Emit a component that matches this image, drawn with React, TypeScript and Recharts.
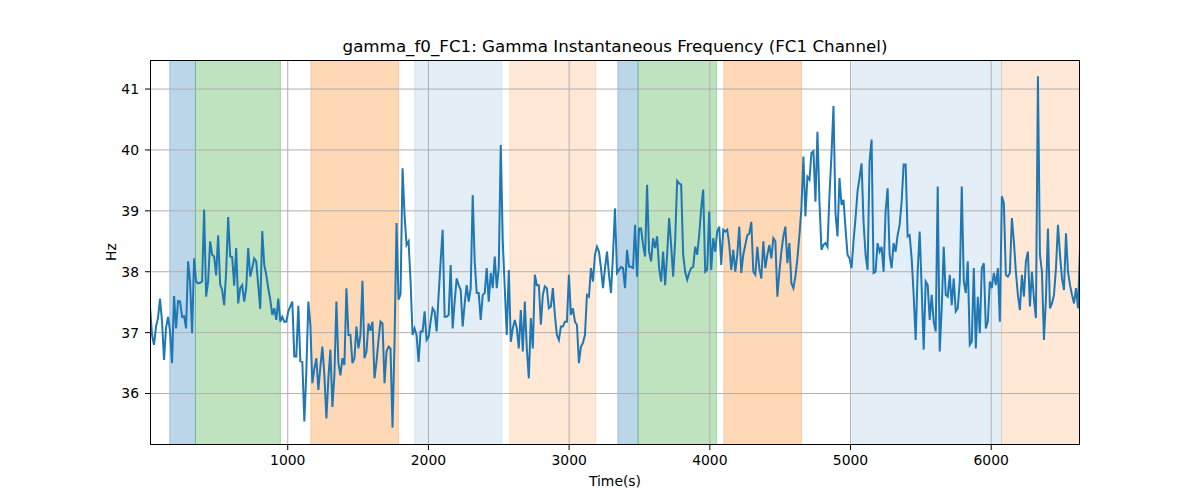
import { LineChart, Line, XAxis, YAxis, ReferenceArea, ReferenceLine } from 'recharts';

// ---------------------------------------------------------------------------
// Data
// ---------------------------------------------------------------------------

// samples are evenly spaced in time
const T0 = 21;
const STEP = 14.246;

const HZ_PART1 = [
  37.43, 36.96, 36.8, 37.1, 37.24, 37.56, 37.18, 36.55, 37.08, 37.26,
  37.02, 36.5, 37.6, 37.07, 37.52, 37.51, 37.26, 37.27, 37.07, 38.17,
  37.84, 36.99, 38.22, 37.84, 37.81, 37.82, 37.84, 39.02, 37.59, 37.84,
  38.5, 38.28, 38.25, 37.94, 38.6, 37.79, 37.7, 37.45, 38.0, 38.9,
  38.25, 38.24, 37.77, 38.39, 37.48, 37.73, 37.78, 37.51, 37.73, 38.39,
  37.92, 38.06, 38.22, 38.17, 37.78, 37.39, 38.67, 38.11, 37.95, 37.73,
  37.54, 37.29, 37.4, 37.21, 37.56, 37.18, 37.26, 37.18, 37.18, 37.35,
  37.43, 37.51, 36.61, 36.61, 37.44, 36.53, 36.52, 35.54,
];

const HZ_PART2 = [
  36.36, 37.51, 37.13, 36.17, 36.41, 36.58, 36.06, 36.44, 36.77, 36.3,
  35.59, 36.25, 36.72, 35.78, 36.3, 37.51, 36.5, 36.3, 36.58, 36.47,
  37.73, 36.96, 36.96, 36.5, 36.58, 37.1, 36.74, 36.96, 37.85, 36.58,
  36.69, 37.15, 37.03, 37.18, 36.25, 36.52, 36.88, 37.18, 37.15, 36.17,
  36.69, 36.77, 36.74, 35.44, 36.85, 38.8, 37.54, 37.63, 39.7, 38.93,
  38.44, 38.5, 37.84, 36.96, 37.07, 36.96, 36.52, 37.02, 37.02, 37.35,
  36.88, 36.93, 37.18, 37.4, 37.35, 37.02, 37.62, 38.17, 38.69, 37.26,
  37.26, 37.29, 38.11, 37.07,
];

const HZ_PART3 = [
  37.51, 37.89, 37.78, 37.7, 37.1, 37.48, 37.78, 37.51, 37.73, 39.26,
  38.17, 37.65, 37.65, 37.21, 37.62, 37.65, 38.06, 37.51, 37.98, 37.73,
  38.25, 37.73, 38.06, 40.08, 38.5, 37.73, 36.96, 38.03, 36.85, 37.07,
  37.21, 37.07, 36.74, 37.37, 36.69, 37.51, 36.74, 36.25, 37.24, 36.74,
  37.95, 37.78, 37.78, 37.13, 37.62, 37.76, 37.73, 37.4, 37.43, 37.73,
  37.29, 36.96, 36.88, 37.1, 37.1, 37.18, 37.18, 37.95, 37.29, 37.4,
  37.18, 37.13, 36.5, 36.77, 36.83, 36.96, 37.62, 37.59, 38.06, 37.84,
  38.28, 38.41, 38.33, 38.06, 37.73,
];

const HZ_PART4 = [
  38.06, 38.33, 37.95, 37.65, 38.28, 39.04, 37.98, 38.03, 38.08, 38.06,
  37.73, 38.36, 38.08, 38.08, 38.06, 38.77, 37.92, 38.71, 38.71, 38.44,
  38.25, 39.43, 38.33, 38.17, 38.55, 38.39, 38.58, 38.06, 37.84, 38.33,
  37.78, 38.28, 38.88, 38.44, 37.92, 38.5, 39.49, 39.45, 39.43, 38.28,
  38.0, 37.87, 37.98, 38.06, 38.08, 38.41, 38.28, 38.6, 39.04, 39.35,
  38.0, 38.03, 38.99, 38.03, 38.55, 38.33, 38.66, 38.74, 38.11, 38.69,
  38.66, 38.69, 38.44, 38.03, 38.36, 38.0, 38.28, 38.74, 37.98, 38.28,
  38.44, 38.6, 38.63, 38.82, 38.0,
];

const HZ_PART5 = [
  37.95, 38.41, 38.06, 37.89, 38.5, 38.06, 38.28, 38.44, 38.22, 38.55,
  38.5, 37.59, 38.0, 38.33, 38.58, 38.74, 38.14, 38.47, 37.81, 37.73,
  37.92, 38.22, 38.6, 39.04, 39.89, 38.91, 39.56, 39.51, 39.95, 39.98,
  39.15, 40.3, 39.15, 38.36, 38.44, 38.47, 38.41, 39.26, 39.92, 40.72,
  38.96, 38.58, 39.54, 39.1, 39.18, 38.71, 38.28, 38.22, 38.06, 38.5,
  38.88, 39.32, 39.54, 39.78, 38.82, 38.28, 38.03, 39.81, 40.17, 37.98,
  38.0, 38.47, 38.33, 38.41, 38.0, 38.99, 39.37, 38.28, 38.06, 38.47,
  38.33, 38.6, 38.77, 39.15, 39.76,
];

const HZ_PART6 = [
  39.76, 38.58, 38.6, 38.22, 37.62, 36.88, 38.0, 38.66, 37.73, 36.72,
  37.84, 37.78, 37.21, 37.62, 37.18, 37.02, 39.4, 36.69, 37.4, 38.41,
  37.62, 37.59, 37.95, 37.45, 37.89, 37.35, 37.4, 37.84, 39.4, 37.84,
  37.65, 38.17, 36.8, 36.85, 38.06, 36.74, 37.59, 36.99, 38.06, 38.14,
  37.07, 37.18, 37.84, 37.73, 37.98, 37.78, 38.06, 37.18, 39.24, 39.13,
  37.95, 37.92, 37.98, 38.88, 38.5, 38.0, 37.62, 37.37, 37.95, 37.59,
  38.17, 38.33, 37.43, 38.0, 37.56, 37.24, 41.21, 38.28, 38.0, 36.88,
  37.56, 38.71, 37.4, 37.48, 37.62, 38.06, 38.77, 38.28, 37.89, 37.7,
  38.63, 38.0, 37.78, 37.62, 37.48, 37.73, 37.4, 38.39,
];

const HZ = [...HZ_PART1, ...HZ_PART2, ...HZ_PART3, ...HZ_PART4, ...HZ_PART5, ...HZ_PART6];

// shaded intervals (time)
const BAND_START = [161, 344, 1164, 1903, 2578, 3346, 3490, 4100, 5012, 6074];
const BAND_END = [344, 948, 1787, 2521, 3190, 3490, 4048, 4652, 6074, 6631];
const BAND_KIND = [
  'blue', 'green', 'orange', 'paleBlue', 'paleOrange',
  'blue', 'green', 'orange', 'paleBlue', 'paleOrange',
] as const;

const X_TICKS = [1000, 2000, 3000, 4000, 5000, 6000];
const Y_TICKS = [36, 37, 38, 39, 40, 41];

const X_DOMAIN: [number, number] = [21, 6631];
const Y_DOMAIN: [number, number] = [35.155, 41.477];

// ---------------------------------------------------------------------------
// Styles
// ---------------------------------------------------------------------------

const BAND_STYLE: Record<string, { color: string; opacity: number }> = {
  blue: { color: '#1f77b4', opacity: 0.3 },
  green: { color: '#2ca02c', opacity: 0.3 },
  orange: { color: '#ff7f0e', opacity: 0.3 },
  paleBlue: { color: '#1f77b4', opacity: 0.12 },
  paleOrange: { color: '#ff7f0e', opacity: 0.17 },
};

const FONT = '"DejaVu Sans", sans-serif';
const GRID = '#b0b0b0';

const chartData = HZ.map((hz, i) => ({ time: T0 + i * STEP, hz }));

export default function App() {
  return (
    <div
      style={{
        position: 'absolute',
        left: 0,
        top: 0,
        width: 1200,
        height: 500,
        background: '#fff',
        fontFamily: FONT,
      }}
    >
      <LineChart
        width={1200}
        height={500}
        data={chartData}
        margin={{ top: 60, right: 120, bottom: 25, left: 90 }}
      >
        <XAxis
          dataKey="time"
          type="number"
          domain={X_DOMAIN}
          ticks={X_TICKS}
          allowDataOverflow
          height={30}
          axisLine={false}
          tickLine={{ stroke: '#000', strokeWidth: 1 }}
          tickSize={5}
          tickMargin={5}
          tick={{ fill: '#000', fontSize: 13.9, fontFamily: FONT }}
        />
        <YAxis
          type="number"
          domain={Y_DOMAIN}
          ticks={Y_TICKS}
          allowDataOverflow
          width={60}
          axisLine={false}
          tickLine={{ stroke: '#000', strokeWidth: 1 }}
          tickSize={5}
          tickMargin={6}
          tick={{ fill: '#000', fontSize: 13.9, fontFamily: FONT }}
        />

        {/* shaded intervals */}
        {BAND_START.map((x1, i) => {
          const s = BAND_STYLE[BAND_KIND[i]];
          return (
            <ReferenceArea
              key={`band-${i}`}
              x1={x1}
              x2={BAND_END[i]}
              fill={s.color}
              fillOpacity={s.opacity}
              stroke={s.color}
              strokeOpacity={s.opacity}
              strokeWidth={1}
              ifOverflow="hidden"
            />
          );
        })}

        {/* grid on top of the bands */}
        {X_TICKS.map((t) => (
          <ReferenceLine key={`gx-${t}`} x={t} stroke={GRID} strokeWidth={1} />
        ))}
        {Y_TICKS.map((t) => (
          <ReferenceLine key={`gy-${t}`} y={t} stroke={GRID} strokeWidth={1} />
        ))}

        <Line
          type="linear"
          dataKey="hz"
          stroke="#1f77b4"
          strokeWidth={2}
          dot={false}
          activeDot={false}
          isAnimationActive={false}
        />
      </LineChart>

      {/* axes frame */}
      <div
        style={{
          position: 'absolute',
          left: 150,
          top: 60,
          width: 930,
          height: 385,
          border: '1px solid #000',
          boxSizing: 'border-box',
          pointerEvents: 'none',
        }}
      />

      <div
        style={{
          position: 'absolute',
          left: 150,
          width: 930,
          top: 36,
          fontSize: 16.7,
          lineHeight: '20px',
          textAlign: 'center',
          whiteSpace: 'nowrap',
        }}
      >
        gamma_f0_FC1: Gamma Instantaneous Frequency (FC1 Channel)
      </div>
      <div
        style={{
          position: 'absolute',
          left: 150,
          width: 930,
          top: 473,
          fontSize: 13.9,
          lineHeight: '16px',
          textAlign: 'center',
        }}
      >
        Time(s)
      </div>
      <div
        style={{
          position: 'absolute',
          left: 111,
          top: 252,
          fontSize: 13.9,
          lineHeight: '16px',
          transform: 'translate(-50%, -50%) rotate(-90deg)',
        }}
      >
        Hz
      </div>
    </div>
  );
}
